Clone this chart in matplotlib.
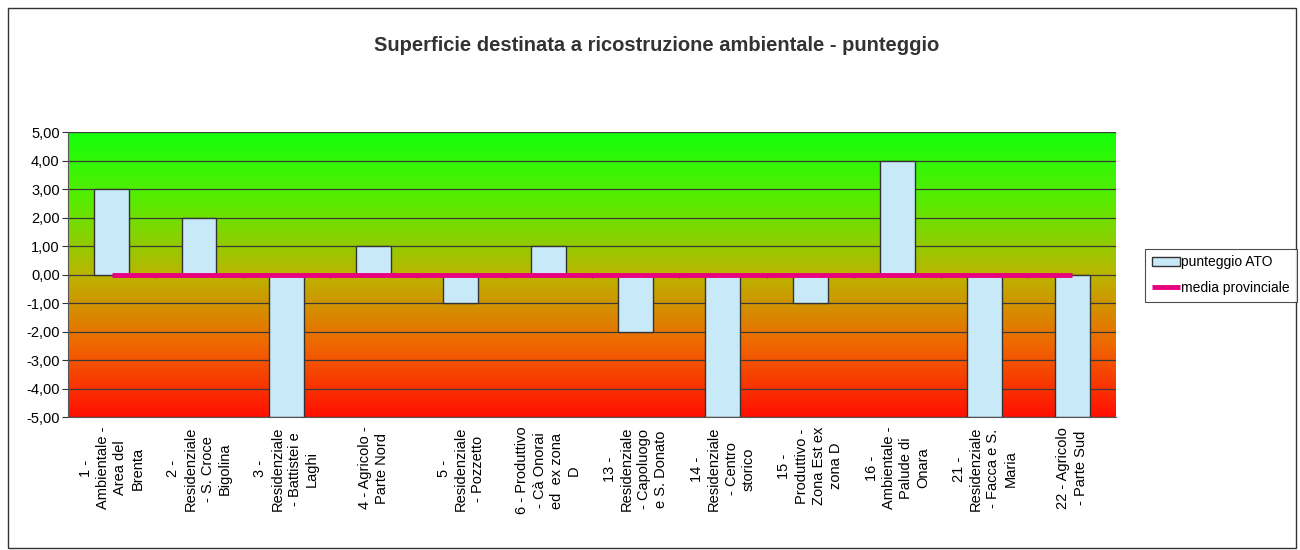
import numpy as np
import matplotlib.pyplot as plt
from matplotlib.colors import LinearSegmentedColormap
from matplotlib.patches import Rectangle

plt.rcParams['font.family'] = ['Liberation Sans', 'DejaVu Sans']

# data
categorie = ['1 -\nAmbientale -\nArea del\nBrenta',
             '2 -\nResidenziale\n- S. Croce\nBigolina',
             '3 -\nResidenziale\n- Battistei e\nLaghi',
             '4 - Agricolo -\nParte Nord',
             '5 -\nResidenziale\n- Pozzetto',
             '6 - Produttivo\n- Cà Onorai\ned  ex zona\nD',
             '13 -\nResidenziale\n- Capoluogo\ne S. Donato',
             '14 -\nResidenziale\n- Centro\nstorico',
             '15 -\nProduttivo -\nZona Est ex\nzona D',
             '16 -\nAmbientale -\nPalude di\nOnara',
             '21 -\nResidenziale\n- Facca e S.\nMaria',
             '22 - Agricolo\n- Parte Sud']
punteggio = [3, 2, -5, 1, -1, 1, -2, -5, -1, 4, -5, -5]
media = [0] * len(categorie)
y_ticks = [-5, -4, -3, -2, -1, 0, 1, 2, 3, 4, 5]

fig = plt.figure(figsize=(13, 5.5), dpi=100)
ax = fig.add_axes([0.0523, 0.2418, 0.806, 0.518])

# outer border
fig.patches.append(Rectangle((0.006, 0.004), 0.991, 0.982, transform=fig.transFigure,
                             fill=False, edgecolor='#333333', linewidth=1.0))

x = np.arange(len(categorie))

# gradient background
cmap = LinearSegmentedColormap.from_list('bg', [
    (0.0, (1.0, 0.06, 0.0)),
    (0.25, (0.94, 0.40, 0.0)),
    (0.5, (0.73, 0.71, 0.0)),
    (0.75, (0.36, 0.92, 0.0)),
    (1.0, (0.08, 1.0, 0.04))])
grad = np.linspace(0, 1, 256).reshape(-1, 1)
ax.imshow(grad, cmap=cmap, aspect='auto', origin='lower',
          extent=[-0.5, len(categorie) - 0.5, -5, 5], zorder=0)

for t in y_ticks:
    ax.axhline(t, color='#3a3a3a', linewidth=0.9, zorder=1)

bars = ax.bar(x, punteggio, width=0.4, color='#C8EAF8', edgecolor='#333333',
              linewidth=1.0, zorder=2, label='punteggio ATO')
line, = ax.plot(x, media, color='#E8007E', linewidth=3.5, zorder=3,
                label='media provinciale', solid_capstyle='butt')

# small category ticks on the zero line
ax.vlines(np.arange(len(categorie) + 1) - 0.5, -0.12, 0, color='#555555',
          linewidth=1.0, zorder=2)

ax.set_xlim(-0.5, len(categorie) - 0.5)
ax.set_ylim(-5, 5)
ax.set_yticks(y_ticks)
ax.yaxis.set_major_formatter(plt.FuncFormatter(lambda v, p: ('%.2f' % v).replace('.', ',')))
ax.tick_params(axis='y', labelsize=10.5)
ax.set_xticks(x)
ax.set_xticklabels(categorie, rotation=90, fontsize=10.5, ha='center', va='top',
                   multialignment='center', linespacing=1.3)
ax.tick_params(axis='x', length=0, pad=7)
ax.tick_params(axis='y', length=4, color='#333333', pad=2)
for s in ['top', 'right']:
    ax.spines[s].set_visible(False)
ax.spines['left'].set_color('#555555')
ax.spines['bottom'].set_color('#555555')

fig.text(0.505, 0.918, 'Superficie destinata a ricostruzione ambientale - punteggio',
         ha='center', va='center', fontsize=14.5, fontweight='bold', color='#333333')

leg = fig.legend([bars, line], ['punteggio ATO', 'media provinciale'],
                 loc='center left', bbox_to_anchor=(0.881, 0.5), fontsize=10,
                 frameon=True, fancybox=False, edgecolor='#222222',
                 handlelength=2.0, borderpad=0.5, handletextpad=0.1,
                 labelspacing=0.8, borderaxespad=0)
leg.get_frame().set_linewidth(0.8)

fig.savefig('out.png', dpi=100)
